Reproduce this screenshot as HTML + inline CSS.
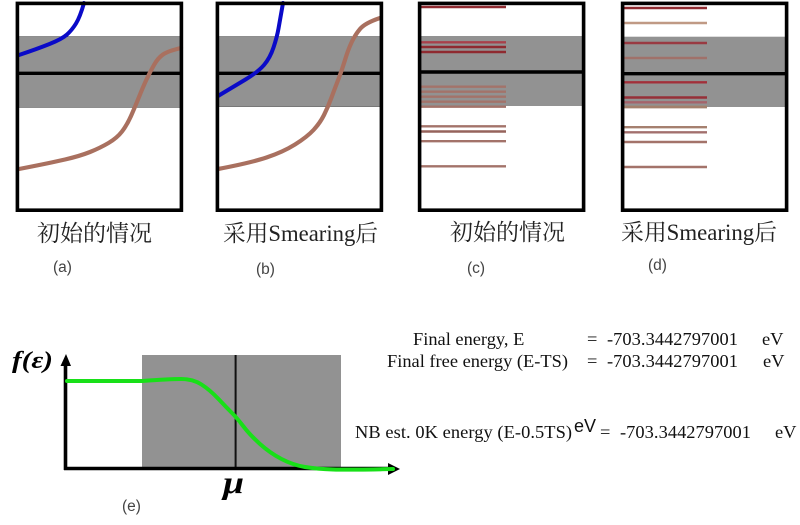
<!DOCTYPE html>
<html>
<head>
<meta charset="utf-8">
<style>
html,body{margin:0;padding:0;background:#fff;width:800px;height:525px;overflow:hidden}
svg{display:block;filter:blur(.35px)}
.cap{font-family:"Liberation Serif","Noto Serif CJK SC",serif;font-size:23px;fill:#222}
.lab{font-family:"Liberation Sans",sans-serif;font-size:15.5px;fill:#444}
.t{font-family:"Liberation Serif",serif;font-size:18.4px;fill:#111}
.box{fill:none;stroke:#000;stroke-width:3.6}
.mid{stroke:#000;stroke-width:3.4}
.c{fill:none;stroke-linejoin:round;stroke-linecap:round}
</style>
</head>
<body>
<svg width="800" height="525" viewBox="0 0 800 525" xmlns="http://www.w3.org/2000/svg">
<rect width="800" height="525" fill="#fff"/>

<!-- a -->
<rect x="17" y="36.7" width="165" height="70.6" fill="#929292" stroke="#444" stroke-width=".6"/>
<line x1="17" x2="182" y1="73.3" y2="73.3" class="mid"/>
<path class="c" d="M19 55Q37 49 49.5 44Q62 39 67 34.5Q72 30 76 23.5Q80 17 84 3" stroke="#0a0ac8" stroke-width="4"/>
<path class="c" d="M19 169Q50 163 65 159.5Q80 156 90 152Q100 148 108.5 143Q117 138 122 131.5Q127 125 131 116Q135 107 139 97Q143 87 146.5 79.5Q150 72 154 65Q158 58 163 54.5Q168 51 181 48" stroke="#a9705f" stroke-width="4.2"/>
<rect x="17.4" y="3.4" width="164" height="206.8" class="box"/>

<!-- b -->
<rect x="217" y="36.7" width="164" height="69.8" fill="#929292" stroke="#444" stroke-width=".6"/>
<line x1="217" x2="381" y1="73.3" y2="73.3" class="mid"/>
<path class="c" d="M218 96Q233 87 245.5 79.5Q258 72 264 65Q270 58 273.5 47.5Q277 37 278.5 28.5Q280 20 283 3" stroke="#0a0ac8" stroke-width="4"/>
<path class="c" d="M218 169Q250 163 266.5 157.5Q283 152 295 144.5Q307 137 313.5 130Q320 123 324 115Q328 107 331.5 97.5Q335 88 338.5 79Q342 70 345 60Q348 50 351.5 42.5Q355 35 360 29Q365 23 380 18" stroke="#a9705f" stroke-width="4.2"/>
<rect x="217.4" y="3.4" width="164" height="206.8" class="box"/>

<!-- c -->
<rect x="420" y="36" width="164" height="70" fill="#929292"/>
<line x1="420" x2="584" y1="72" y2="72" class="mid"/>
<g stroke-width="2.4" fill="none">
<g stroke="#8f2a30">
<line x1="421" x2="506" y1="7" y2="7"/>
<line x1="421" x2="506" y1="42.3" y2="42.3" stroke="#a8404a"/>
<line x1="421" x2="506" y1="47" y2="47"/>
<line x1="421" x2="506" y1="52" y2="52"/>
</g>
<g stroke="#a3736a">
<line x1="421" x2="506" y1="86.7" y2="86.7"/>
<line x1="421" x2="506" y1="91.7" y2="91.7"/>
<line x1="421" x2="506" y1="96.7" y2="96.7"/>
<line x1="421" x2="506" y1="101.7" y2="101.7"/>
<line x1="421" x2="506" y1="106.7" y2="106.7"/>
<line x1="421" x2="506" y1="126.3" y2="126.3"/>
<line x1="421" x2="506" y1="131.5" y2="131.5" stroke="#96635c"/>
<line x1="421" x2="506" y1="141.2" y2="141.2"/>
<line x1="421" x2="506" y1="166.3" y2="166.3"/>
</g>
</g>
<rect x="419.6" y="3.4" width="164" height="206.8" class="box"/>

<!-- d -->
<rect x="622" y="36.7" width="164" height="70.3" fill="#929292"/>
<line x1="622" x2="786" y1="73.7" y2="73.7" class="mid"/>
<g stroke-width="2.4" fill="none">
<line x1="624" x2="707" y1="8" y2="8" stroke="#8f2a30"/>
<line x1="624" x2="707" y1="23" y2="23" stroke="#c09a85"/>
<line x1="624" x2="707" y1="43" y2="43" stroke="#993a42"/>
<line x1="624" x2="707" y1="58" y2="58" stroke="#a0716a"/>
<line x1="624" x2="707" y1="82.3" y2="82.3" stroke="#a2303a"/>
<line x1="624" x2="707" y1="97.5" y2="97.5" stroke="#962f38"/>
<line x1="624" x2="707" y1="102.3" y2="102.3" stroke="#a5636a"/>
<line x1="624" x2="707" y1="107" y2="107" stroke="#a3806c" stroke-width="2.8"/>
<line x1="624" x2="707" y1="127.2" y2="127.2" stroke="#a5806f"/>
<line x1="624" x2="707" y1="132.3" y2="132.3" stroke="#a3706e"/>
<line x1="624" x2="707" y1="142" y2="142" stroke="#a3736a"/>
<line x1="624" x2="707" y1="167" y2="167" stroke="#a3736a"/>
</g>
<rect x="622.6" y="3.4" width="164" height="206.8" class="box"/>

<!-- captions -->
<text class="cap" x="37" y="241" textLength="115" lengthAdjust="spacingAndGlyphs">初始的情况</text>
<text class="cap" x="223" y="241" textLength="155" lengthAdjust="spacingAndGlyphs">采用Smearing后</text>
<text class="cap" x="450" y="240" textLength="115" lengthAdjust="spacingAndGlyphs">初始的情况</text>
<text class="cap" x="621" y="240" textLength="156" lengthAdjust="spacingAndGlyphs">采用Smearing后</text>
<text class="lab" x="53" y="272">(a)</text>
<text class="lab" x="256" y="274">(b)</text>
<text class="lab" x="467" y="273">(c)</text>
<text class="lab" x="648" y="270">(d)</text>
<text class="lab" x="122" y="511">(e)</text>

<!-- e -->
<rect x="142" y="355" width="199" height="113" fill="#929292"/>
<line x1="235.6" x2="235.6" y1="355" y2="468" stroke="#111" stroke-width="2"/>
<path d="M64 468.5H392" stroke="#000" stroke-width="3.6" fill="none"/>
<path d="M65.5 470V362" stroke="#000" stroke-width="3.6" fill="none"/>
<path d="M66 354L60.5 366H71Z" fill="#000"/>
<path d="M400 469L388 463V475Z" fill="#000"/>
<path class="c" d="M67 381L142 381Q170 379 181 379Q193 379 201.5 384.5Q210 390 218.5 399Q227 408 232 413Q237 418 243.5 426.5Q250 435 260 444Q270 453 281.5 459Q293 465 305 467Q317 469 333 469.5Q350 470 393 469" stroke="#18e018" stroke-width="4"/>
<text x="12" y="368" font-family="'Liberation Serif',serif" font-size="24" font-weight="bold" font-style="italic" fill="#000" textLength="41" lengthAdjust="spacingAndGlyphs">f(ε)</text>
<text x="223" y="493" font-family="'Liberation Serif',serif" font-size="32" font-weight="bold" font-style="italic" fill="#000" textLength="21" lengthAdjust="spacingAndGlyphs">μ</text>

<!-- energy text -->
<text class="t" x="413" y="345">Final energy, E</text>
<text class="t" x="587" y="345">=</text>
<text class="t" x="607" y="345" textLength="131">-703.3442797001</text>
<text class="t" x="762" y="345">eV</text>
<text class="t" x="387" y="367">Final free energy (E-TS)</text>
<text class="t" x="587" y="367">=</text>
<text class="t" x="607" y="367" textLength="131">-703.3442797001</text>
<text class="t" x="763" y="367">eV</text>
<text class="t" x="355" y="438" textLength="217">NB est. 0K energy (E-0.5TS)</text>
<text x="574" y="432" font-family="'Liberation Sans',sans-serif" font-size="18" fill="#111">eV</text>
<text class="t" x="600" y="438">=</text>
<text class="t" x="620" y="438" textLength="131">-703.3442797001</text>
<text class="t" x="775" y="438">eV</text>
</svg>
</body>
</html>
